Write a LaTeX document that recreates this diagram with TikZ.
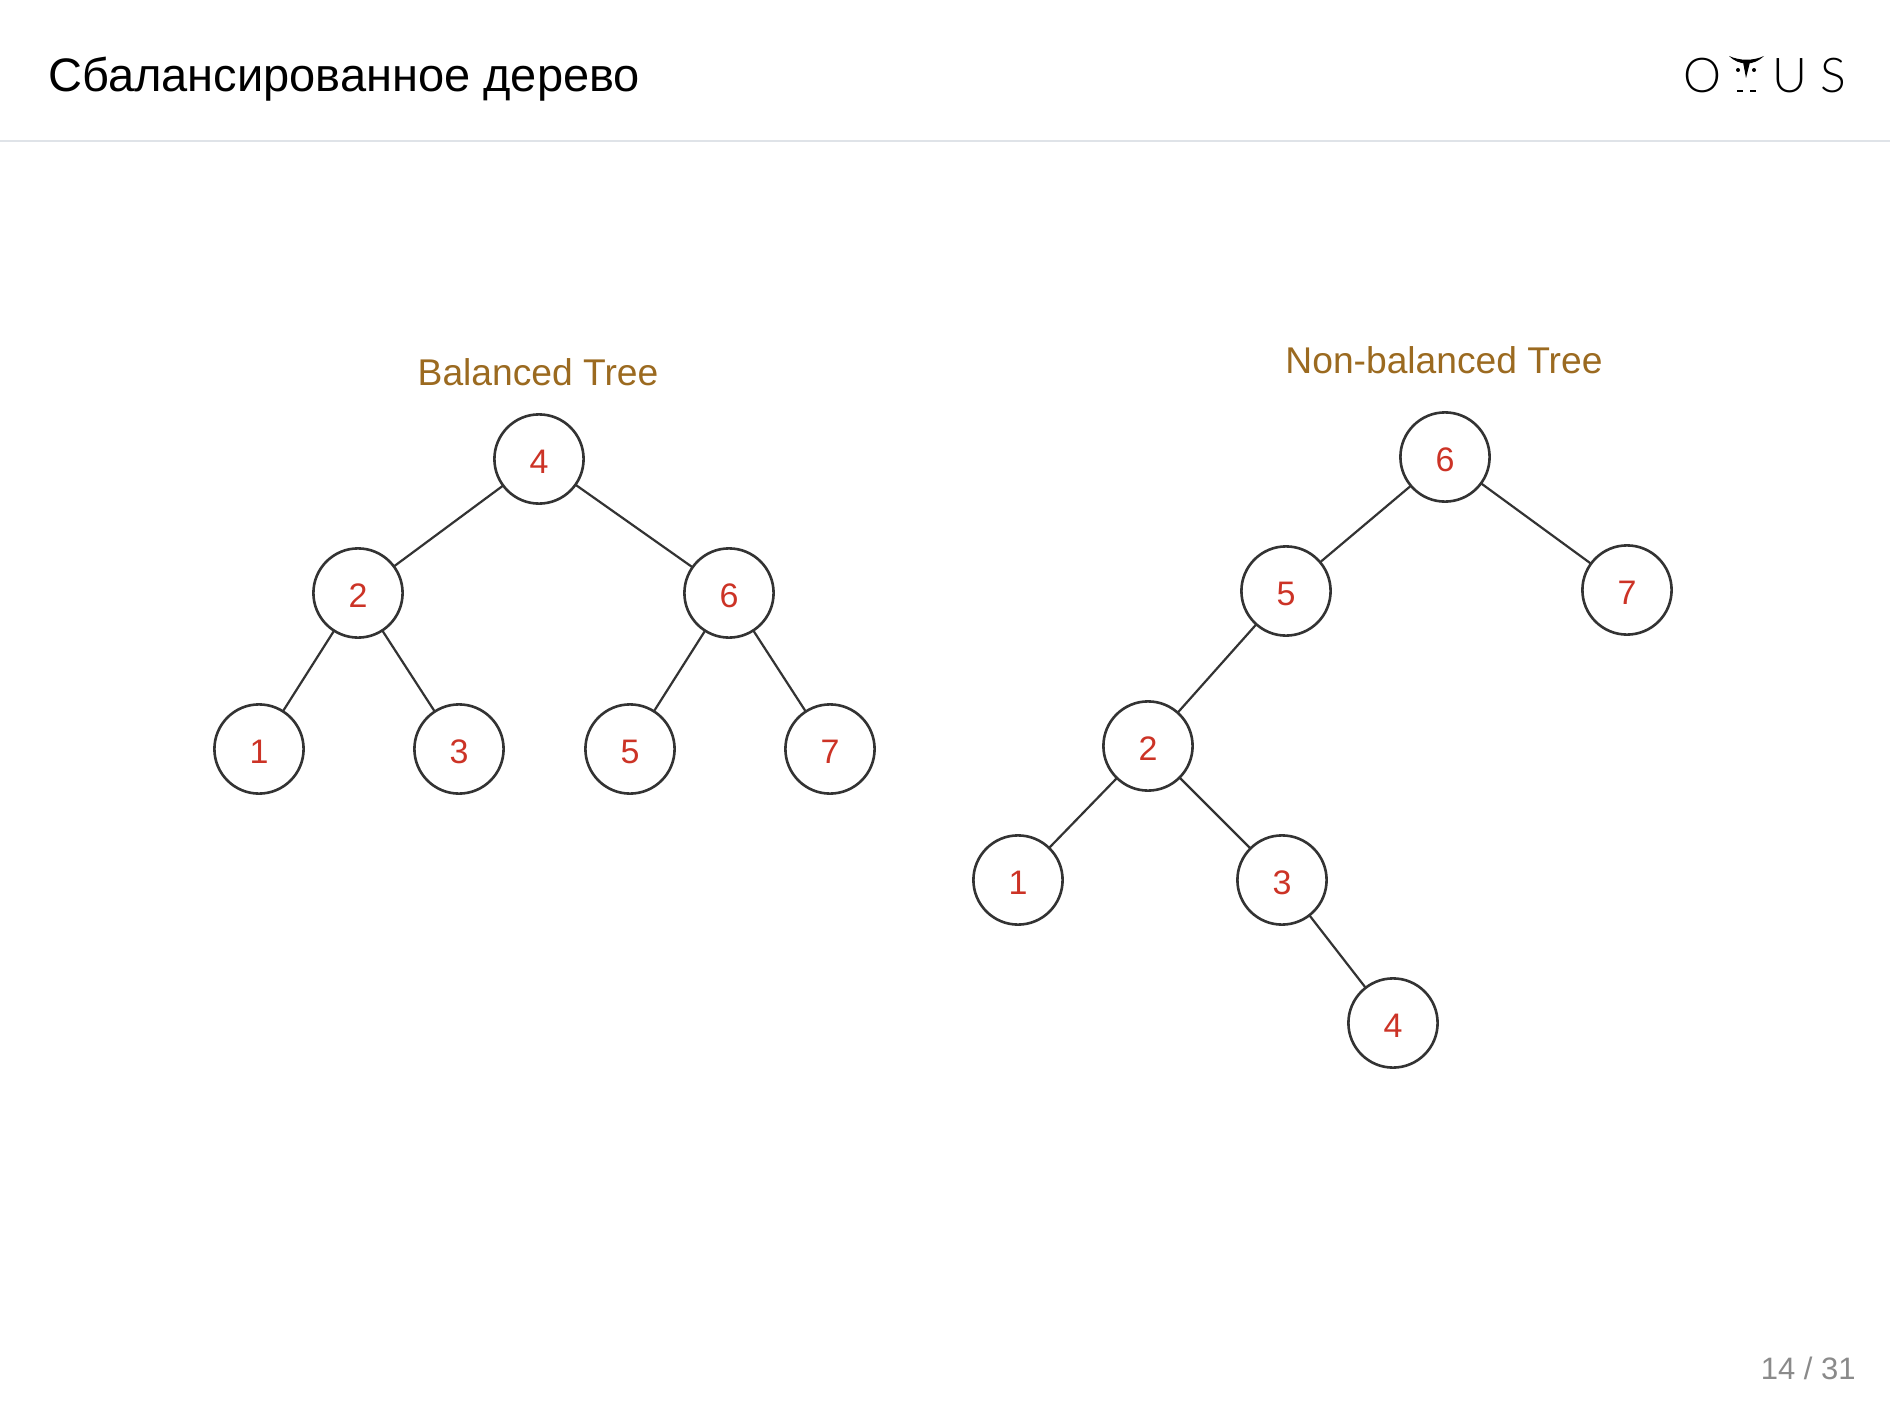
\documentclass[tikz,border=0pt]{standalone}
\usepackage{fontspec}
\setmainfont{Liberation Sans}
\newfontfamily\logofont{Lato Light}
\definecolor{titlebrown}{HTML}{9B6A20}
\definecolor{keyred}{HTML}{CC3326}
\definecolor{rulegray}{HTML}{DFE3E8}
\definecolor{pagegray}{HTML}{8A8A8A}
\definecolor{edgegray}{HTML}{333333}
\tikzset{
  treenode/.style={circle, draw=edgegray, line width=1.3pt, minimum size=44.6pt, inner sep=0pt, outer sep=0pt, text=keyred, text height=14.6pt, text depth=0pt, font=\fontsize{17}{20}\selectfont},
  treeedge/.style={draw=edgegray, line width=1.1pt},
  treetitle/.style={text=titlebrown, inner sep=0pt, font=\fontsize{18.6}{22}\selectfont},
  logoletter/.style={inner sep=0pt, font=\logofont\fontsize{24}{26}\selectfont}
}
\begin{document}
\begin{tikzpicture}[x=0.5pt, y=-0.5pt]
            \useasboundingbox (0,0) rectangle (1890,1407);
            \fill[white] (0,0) rectangle (1890,1407);

            \coordinate (ruleL) at (0,141);
            \coordinate (ruleR) at (1890,141);
            \draw[rulegray, line width=1pt] (ruleL) -- (ruleR);
            \node (heading) at (48,79) [anchor = west, inner sep=0pt, font=\fontsize{23.5}{28}\selectfont] {Сбалансированное дерево};
            \node (pagenum) at (1856,1368) [anchor = east, inner sep=0pt, text=pagegray, font=\fontsize{15.5}{18}\selectfont] {14 / 31};

            \node (logoO) at (1702,76) [logoletter] {O};
            \node (logoU) at (1790,76) [logoletter] {U};
            \node (logoS) at (1833,76) [logoletter] {S};
            \fill (1729,56) .. controls (1740,61) and (1753,61) .. (1764,56) .. controls (1754,66) and (1739,66) .. (1729,56);
            \fill (1743,62) -- (1750,62) -- (1746,78) -- cycle;
            \fill (1738,70) circle (1pt);
            \fill (1754,70) circle (1pt);
            \fill (1737,90) rectangle (1743,92);
            \fill (1750,90) rectangle (1756,92);

            \node (baltitle) at (538,372) [treetitle] {Balanced Tree};
            \node (bal4) at (539,459) [treenode] {4};
            \node (bal2) at (358,593) [treenode] {2};
            \node (bal6) at (729,593) [treenode] {6};
            \node (bal1) at (259,749) [treenode] {1};
            \node (bal3) at (459,749) [treenode] {3};
            \node (bal5) at (630,749) [treenode] {5};
            \node (bal7) at (830,749) [treenode] {7};
            \draw[treeedge] (bal4) -- (bal2);
            \draw[treeedge] (bal4) -- (bal6);
            \draw[treeedge] (bal2) -- (bal1);
            \draw[treeedge] (bal2) -- (bal3);
            \draw[treeedge] (bal6) -- (bal5);
            \draw[treeedge] (bal6) -- (bal7);

            \node (nontitle) at (1444,360) [treetitle] {Non-balanced Tree};
            \node (non6) at (1445,457) [treenode] {6};
            \node (non5) at (1286,591) [treenode] {5};
            \node (non7) at (1627,590) [treenode] {7};
            \node (non2) at (1148,746) [treenode] {2};
            \node (non1) at (1018,880) [treenode] {1};
            \node (non3) at (1282,880) [treenode] {3};
            \node (non4) at (1393,1023) [treenode] {4};
            \draw[treeedge] (non6) -- (non5);
            \draw[treeedge] (non6) -- (non7);
            \draw[treeedge] (non5) -- (non2);
            \draw[treeedge] (non2) -- (non1);
            \draw[treeedge] (non2) -- (non3);
            \draw[treeedge] (non3) -- (non4);
\end{tikzpicture}
\end{document}
